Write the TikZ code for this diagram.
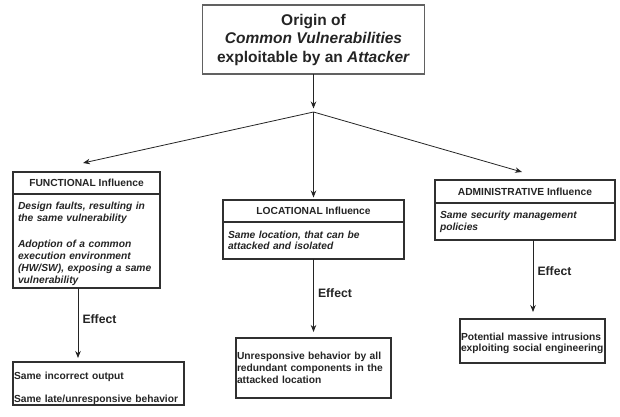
\documentclass[tikz,border=0pt]{standalone}
\usepackage{fontspec}
\setmainfont{Liberation Sans}
\usepackage{xcolor}
\usepackage{tikz}
\usetikzlibrary{positioning, arrows.meta}
\definecolor{ink}{HTML}{242424}
\definecolor{frame}{HTML}{303030}
\tikzstyle{topbox} = [rectangle, minimum width=222pt, minimum height=69pt, align=center, draw=black!62, line width=1.6pt, font=\fontsize{15.5}{18.5}\selectfont\bfseries]
\tikzstyle{head} = [rectangle, minimum height=22pt, text centered, draw=frame, line width=1.1pt, font=\fontsize{10.25}{11.8}\selectfont\bfseries]
\tikzstyle{body} = [rectangle, inner xsep=5pt, inner ysep=0pt, align=left, draw=frame, line width=1.1pt, font=\fontsize{10.25}{11.8}\selectfont\bfseries\itshape]
\tikzstyle{result} = [rectangle, anchor=north west, inner xsep=1pt, inner ysep=0pt, align=left, draw=frame, line width=1.1pt, font=\fontsize{10.25}{11.8}\selectfont\bfseries]
\tikzstyle{arrow} = [line width=0.8pt, draw=ink, -{Stealth[length=7pt, width=5.5pt]}]
\tikzstyle{effect} = [right=4.5pt, inner sep=0pt, font=\fontsize{12.2}{14}\selectfont\bfseries]

\begin{document}
\begin{tikzpicture}[x=1pt, y=-1pt, text=ink, outer sep=0pt]
        \useasboundingbox (0,0) rectangle (620,416);

        \node (origin) [topbox] at (313.5,39.5) {Origin of\\ \textit{Common Vulnerabilities}\\ exploitable by an \textit{Attacker}};
        \coordinate (split) at (313.5,112);
        \coordinate (ftip) at (83,163);
        \coordinate (atip) at (522,172);

        \node (func1) [head, minimum width=147pt] at (86.5,183) {FUNCTIONAL Influence};
        \node (func2) [body, text width=137pt, below=0pt of func1] {\rule{0pt}{15.5pt}Design faults, resulting in\\ the same vulnerability\\[14.7pt] Adoption of a common\\ execution environment\\ (HW/SW), exposing a same\\ vulnerability\rule[-4.8pt]{0pt}{4.8pt}};
        \node (loc1) [head, minimum width=181pt] at (313.5,211) {LOCATIONAL Influence};
        \node (loc2) [body, text width=171pt, below=0pt of loc1] {\rule{0pt}{16pt}Same location, that can be\\ attacked and isolated\rule[-9.2pt]{0pt}{9.2pt}};
        \node (adm1) [head, minimum width=180pt, minimum height=23pt] at (525,191.5) {ADMINISTRATIVE Influence};
        \node (adm2) [body, text width=170pt, below=0pt of adm1] {\rule{0pt}{15.8pt}Same security management\\ policies\rule[-9.4pt]{0pt}{9.4pt}};

        \node (res1) [result, text width=169pt] at (13,362) {\rule{0pt}{17.7pt}Same incorrect output\\[11.2pt] Same late/unresponsive behavior\rule[-2.3pt]{0pt}{2.3pt}};
        \node (res2) [result, text width=153pt] at (236,338) {\rule{0pt}{21.8pt}Unresponsive behavior by all\\ redundant components in the\\ attacked location\rule[-14.6pt]{0pt}{14.6pt}};
        \node (res3) [result, text width=143pt] at (460,319) {\rule{0pt}{21pt}Potential massive intrusions\\ exploiting social engineering\rule[-11.2pt]{0pt}{11.2pt}};
        \coordinate (e1) at (78,358);
        \coordinate (e2) at (313.5,332);
        \coordinate (e3) at (533,312);

        \draw [arrow, shorten >=3.5pt] (origin) -- (split);
        \draw [arrow] (split) -- (ftip);
        \draw [arrow, shorten >=2.5pt] (split) -- (loc1);
        \draw [arrow] (split) -- (atip);
        \draw [arrow] (e1 |- func2.south) -- node[effect, pos=0.44] {Effect} (e1);
        \draw [arrow] (e2 |- loc2.south) -- node[effect, pos=0.47] {Effect} (e2);
        \draw [arrow] (e3 |- adm2.south) -- node[effect, pos=0.43] {Effect} (e3);
    \end{tikzpicture}
\end{document}
